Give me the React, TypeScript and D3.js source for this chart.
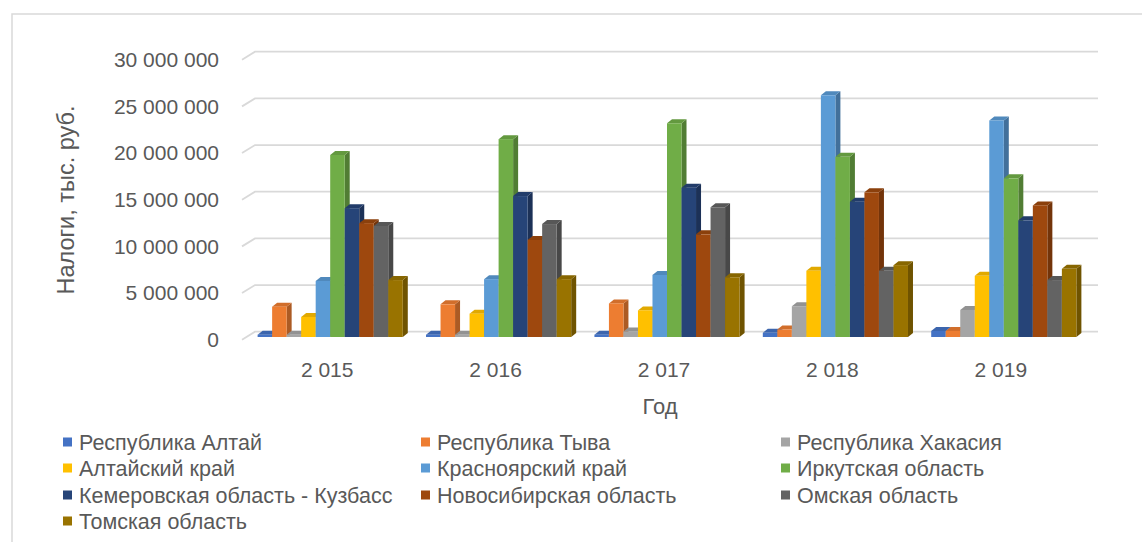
import React from "react";
import * as d3 from "d3";

// Годы (категории)
const years = [2015, 2016, 2017, 2018, 2019];

// Налоги, тыс. руб. по регионам
const altaiRep = [250000, 250000, 250000, 450000, 650000];
const tyva = [3250000, 3500000, 3600000, 800000, 650000];
const khakasia = [250000, 250000, 600000, 3300000, 2900000];
const altaiKrai = [2150000, 2500000, 2850000, 7100000, 6550000];
const krasnoyarsk = [6000000, 6200000, 6650000, 25900000, 23200000];
const irkutsk = [19500000, 21200000, 22900000, 19300000, 17000000];
const kemerovo = [13800000, 15100000, 16000000, 14500000, 12500000];
const novosibirsk = [12200000, 10400000, 11000000, 15500000, 14100000];
const omsk = [11900000, 12100000, 13900000, 7100000, 6100000];
const tomsk = [6100000, 6200000, 6400000, 7700000, 7300000];

const seriesNames = [
  "Республика Алтай",
  "Республика Тыва",
  "Республика Хакасия",
  "Алтайский край",
  "Красноярский край",
  "Иркутская область",
  "Кемеровская область - Кузбасс",
  "Новосибирская область",
  "Омская область",
  "Томская область",
];
const seriesValues = [altaiRep, tyva, khakasia, altaiKrai, krasnoyarsk, irkutsk, kemerovo, novosibirsk, omsk, tomsk];
const colors = ["#4472C4", "#ED7D31", "#A5A5A5", "#FFC000", "#5B9BD5", "#70AD47", "#264478", "#9E480E", "#636363", "#997300"];

const yTicks = [0, 5000000, 10000000, 15000000, 20000000, 25000000, 30000000];

const ru = d3.formatLocale({ decimal: ",", thousands: "\u00a0", grouping: [3], currency: ["", ""] });
const fmt = ru.format(",d");

const W = 1142;
const H = 542;
const FONT = "'Liberation Sans', Arial, sans-serif";
const TXT = "#595959";

export default function App() {
  // задняя стенка
  const wallLeft = 255;
  const wallRight = 1098;
  const slantX = 13;
  const slantY = 8;
  const y = d3.scaleLinear().domain([0, 30000000]).range([331.7, 51.7]);
  const barBase = 337;
  const yBar = (v: number) => y(v) + (barBase - y(0));

  const x = d3.scaleBand<number>().domain(years).range([243, 1085]).paddingInner(0);
  const inner = d3.scaleBand<number>().domain(d3.range(seriesNames.length)).range([0, x.bandwidth()]).paddingOuter(0.8).paddingInner(0);
  const bw = inner.bandwidth();
  const dx = 5;
  const dy = 4;

  const legendCols = [63, 421, 781];
  const legendRows = [442, 468, 495, 521];

  return (
    <svg width={W} height={H} style={{ position: "absolute", left: 0, top: 0, background: "#fff" }}>
      <rect x={12} y={14} width={1160} height={560} fill="#fff" stroke="#d9d9d9" strokeWidth={1.5} />

      {yTicks.map((t) => (
        <g key={t}>
          <path
            d={`M${wallLeft - slantX},${y(t) + slantY}L${wallLeft},${y(t)}H${wallRight}`}
            fill="none"
            stroke="#d9d9d9"
            strokeWidth={1.8}
          />
          <text x={219} y={y(t) + slantY} dy="0.35em" textAnchor="end" fontFamily={FONT} fontSize={21} fill={TXT}>
            {fmt(t)}
          </text>
        </g>
      ))}

      {years.map((yr, i) => (
        <g key={yr}>
          {seriesValues.map((vals, j) => {
            const x0 = (x(yr) as number) + (inner(j) as number) + 3;
            const top = yBar(vals[i]);
            const c = d3.color(colors[j]) as d3.RGBColor;
            const side = c.darker(0.9).formatHex();
            const topC = c.darker(0.35).formatHex();
            return (
              <g key={j}>
                <polygon
                  points={`${x0 + bw},${top} ${x0 + bw + dx},${top - dy} ${x0 + bw + dx},${barBase - dy} ${x0 + bw},${barBase}`}
                  fill={side}
                />
                <polygon
                  points={`${x0},${top} ${x0 + dx},${top - dy} ${x0 + bw + dx},${top - dy} ${x0 + bw},${top}`}
                  fill={topC}
                />
                <rect x={x0} y={top} width={bw} height={barBase - top} fill={colors[j]} />
              </g>
            );
          })}
          <text
            x={(x(yr) as number) + x.bandwidth() / 2}
            y={370}
            dy="0.35em"
            textAnchor="middle"
            fontFamily={FONT}
            fontSize={21}
            fill={TXT}
          >
            {fmt(yr)}
          </text>
        </g>
      ))}

      <text x={660} y={406} dy="0.35em" textAnchor="middle" fontFamily={FONT} fontSize={22} fill={TXT}>
        Год
      </text>
      <text
        transform="translate(66,200) rotate(-90)"
        dy="0.35em"
        textAnchor="middle"
        fontFamily={FONT}
        fontSize={23.5}
        fill={TXT}
      >
        Налоги, тыс. руб.
      </text>

      {seriesNames.map((name, j) => {
        const cx = legendCols[j % 3];
        const cy = legendRows[Math.floor(j / 3)];
        return (
          <g key={name}>
            <rect x={cx} y={cy - 4.5} width={9} height={9} fill={colors[j]} />
            <text x={cx + 16} y={cy} dy="0.35em" fontFamily={FONT} fontSize={21.5} fill={TXT}>
              {name}
            </text>
          </g>
        );
      })}
    </svg>
  );
}
